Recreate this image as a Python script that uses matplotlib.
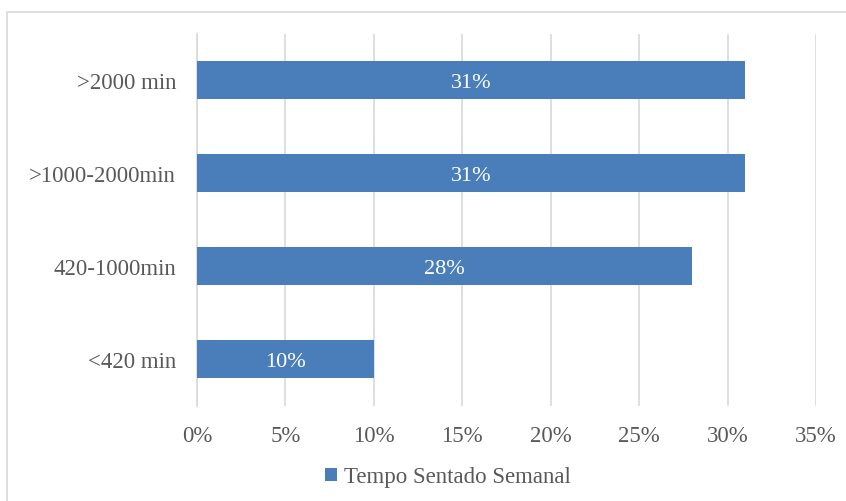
import matplotlib.pyplot as plt
from matplotlib.patches import Rectangle, Patch

# Weekly sitting time distribution
categories = ["<420 min", "420-1000min", ">1000-2000min", ">2000 min"]
shares = [10, 28, 31, 31]
bar_labels = ["10%", "28%", "31%", "31%"]
x_ticks = [0, 5, 10, 15, 20, 25, 30, 35]
x_tick_labels = ["0%", "5%", "10%", "15%", "20%", "25%", "30%", "35%"]
series_name = "Tempo Sentado Semanal"

bar_color = "#4A7EBB"
text_color = "#595959"
grid_color = "#D9D9D9"

plt.rcParams["font.family"] = ["Liberation Serif", "DejaVu Serif"]

fig = plt.figure(figsize=(8.46, 5.02), dpi=100)
ax = fig.add_axes([197 / 846, 1 - 406.5 / 502, (816 - 197) / 846, 372 / 502])

# chart area border
fig.patches.append(Rectangle((7 / 846, -0.1), 1.2, 1 - 13 / 502 + 0.1,
                             transform=fig.transFigure, fill=False,
                             edgecolor=grid_color, linewidth=1.2))

y = range(len(categories))
bars = ax.barh(y, shares, height=0.4, color=bar_color, zorder=3)

for bar, lab in zip(bars, bar_labels):
    ax.text(bar.get_width() / 2, bar.get_y() + bar.get_height() / 2, lab,
            ha="center", va="center_baseline", color="white", fontsize=16, zorder=4)

ax.set_xlim(0, 35)
ax.set_ylim(-0.5, len(categories) - 0.5)
ax.set_xticks(x_ticks)
ax.set_xticklabels(x_tick_labels)
ax.set_yticks(list(y))
ax.set_yticklabels(categories)

ax.grid(axis="x", color=grid_color, linewidth=1.2, zorder=0)
ax.tick_params(axis="both", length=0, labelsize=16.5, labelcolor=text_color)
ax.tick_params(axis="x", pad=14)
ax.tick_params(axis="y", pad=15)
for side in ["top", "right", "bottom"]:
    ax.spines[side].set_visible(False)
ax.spines["left"].set_color(grid_color)
ax.spines["left"].set_linewidth(1.2)

handle = Patch(facecolor=bar_color, edgecolor="none")
fig.legend([handle], [series_name], loc="center", bbox_to_anchor=(448 / 846, 1 - 478 / 502),
           frameon=False, fontsize=16.5, labelcolor=text_color,
           handlelength=0.5, handleheight=0.5, handletextpad=0.3)

fig.savefig("out.png", dpi=100, facecolor="white")
